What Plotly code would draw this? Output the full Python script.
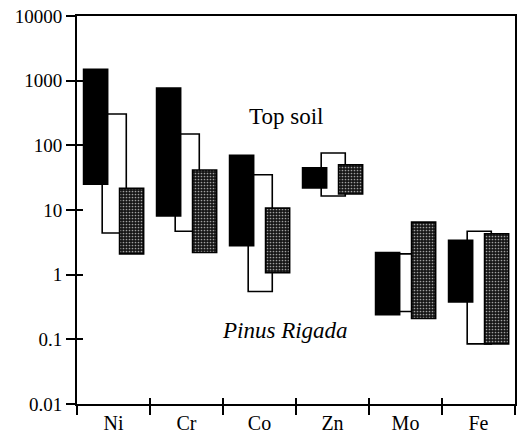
import numpy as np
import plotly.graph_objects as go

elements = ["Ni", "Cr", "Co", "Zn", "Mo", "Fe"]

# concentration ranges (low, high)
soil_low = [25, 8.1, 2.8, 22, 0.24, 0.38]
soil_high = [1500, 770, 70, 45, 2.2, 3.4]

white_low = [4.4, 4.7, 0.55, 16.5, 0.27, 0.085]
white_high = [305, 150, 35, 76, 2.1, 4.7]

pine_low = [2.1, 2.2, 1.07, 17.7, 0.21, 0.085]
pine_high = [21.7, 41.6, 10.7, 50, 6.5, 4.3]

y_ticks = [0.01, 0.1, 1, 10, 100, 1000, 10000]
y_ticktext = ["0.01", "0.1", "1", "10", "100", "1000", "10000"]

pos = np.arange(len(elements))
bounds = np.arange(len(elements) + 1) - 0.5
W = 0.33
FONT = "Liberation Serif"


def bar(low, high, offset, **marker):
    low = np.array(low, dtype=float)
    high = np.array(high, dtype=float)
    return go.Bar(
        x=pos, y=high - low, base=low, offset=offset, width=W,
        marker=dict(line=dict(color="black", width=1.6), **marker),
        showlegend=False, hoverinfo="skip",
    )


fig = go.Figure()
fig.add_trace(bar(white_low, white_high, 0.01 - W / 2, color="white"))
fig.add_trace(bar(soil_low, soil_high, -0.245 - W / 2, color="black"))
fig.add_trace(bar(pine_low, pine_high, 0.248 - W / 2,
                  pattern=dict(shape=".", bgcolor="#161616", fgcolor="#a0a0a0",
                               size=3, solidity=0.25, fillmode="replace")))
# dummy trace to activate the overlaid tick axes
fig.add_trace(go.Scatter(x=[], y=[], xaxis="x2", yaxis="y2", showlegend=False))

fig.update_layout(
    width=520, height=446,
    margin=dict(l=77, r=3, t=16, b=42),
    paper_bgcolor="white", plot_bgcolor="white",
    barmode="overlay",
    font=dict(family=FONT, size=19, color="black"),
    xaxis=dict(
        range=[-0.5, 5.5], tickvals=pos, ticktext=elements, ticks="",
        showgrid=False, zeroline=False, showline=True, linecolor="black",
        linewidth=2, mirror=True, tickfont=dict(family=FONT, size=20),
        minor=dict(tickmode="array", tickvals=bounds, ticks="outside",
                   ticklen=9, tickwidth=1.6, tickcolor="black", showgrid=False),
    ),
    yaxis=dict(
        type="log", range=[-2, 4], tickvals=y_ticks, ticktext=y_ticktext,
        ticks="outside", ticklen=9, tickwidth=1.6, tickcolor="black",
        showgrid=False, zeroline=False, showline=True, linecolor="black",
        linewidth=2, mirror=True, tickfont=dict(family=FONT, size=19),
    ),
    xaxis2=dict(
        overlaying="x", anchor="y2", range=[-0.5, 5.5], tickvals=bounds,
        ticks="inside", ticklen=6, tickwidth=1.6, tickcolor="black",
        showticklabels=False, showgrid=False, zeroline=False, showline=False,
    ),
    yaxis2=dict(
        overlaying="y", anchor="x2", type="log", range=[-2, 4], tickvals=y_ticks,
        ticks="inside", ticklen=6, tickwidth=1.6, tickcolor="black",
        showticklabels=False, showgrid=False, zeroline=False, showline=False,
    ),
    annotations=[
        dict(text="Top soil", xref="paper", yref="paper", x=0.477, y=0.74,
             xanchor="center", yanchor="middle",
             showarrow=False, font=dict(family=FONT, size=23, color="black")),
        dict(text="<i>Pinus Rigada</i>", xref="paper", yref="paper", x=0.475, y=0.19,
             xanchor="center", yanchor="middle",
             showarrow=False, font=dict(family=FONT, size=23, color="black")),
    ],
)

fig.write_html("out.html")
